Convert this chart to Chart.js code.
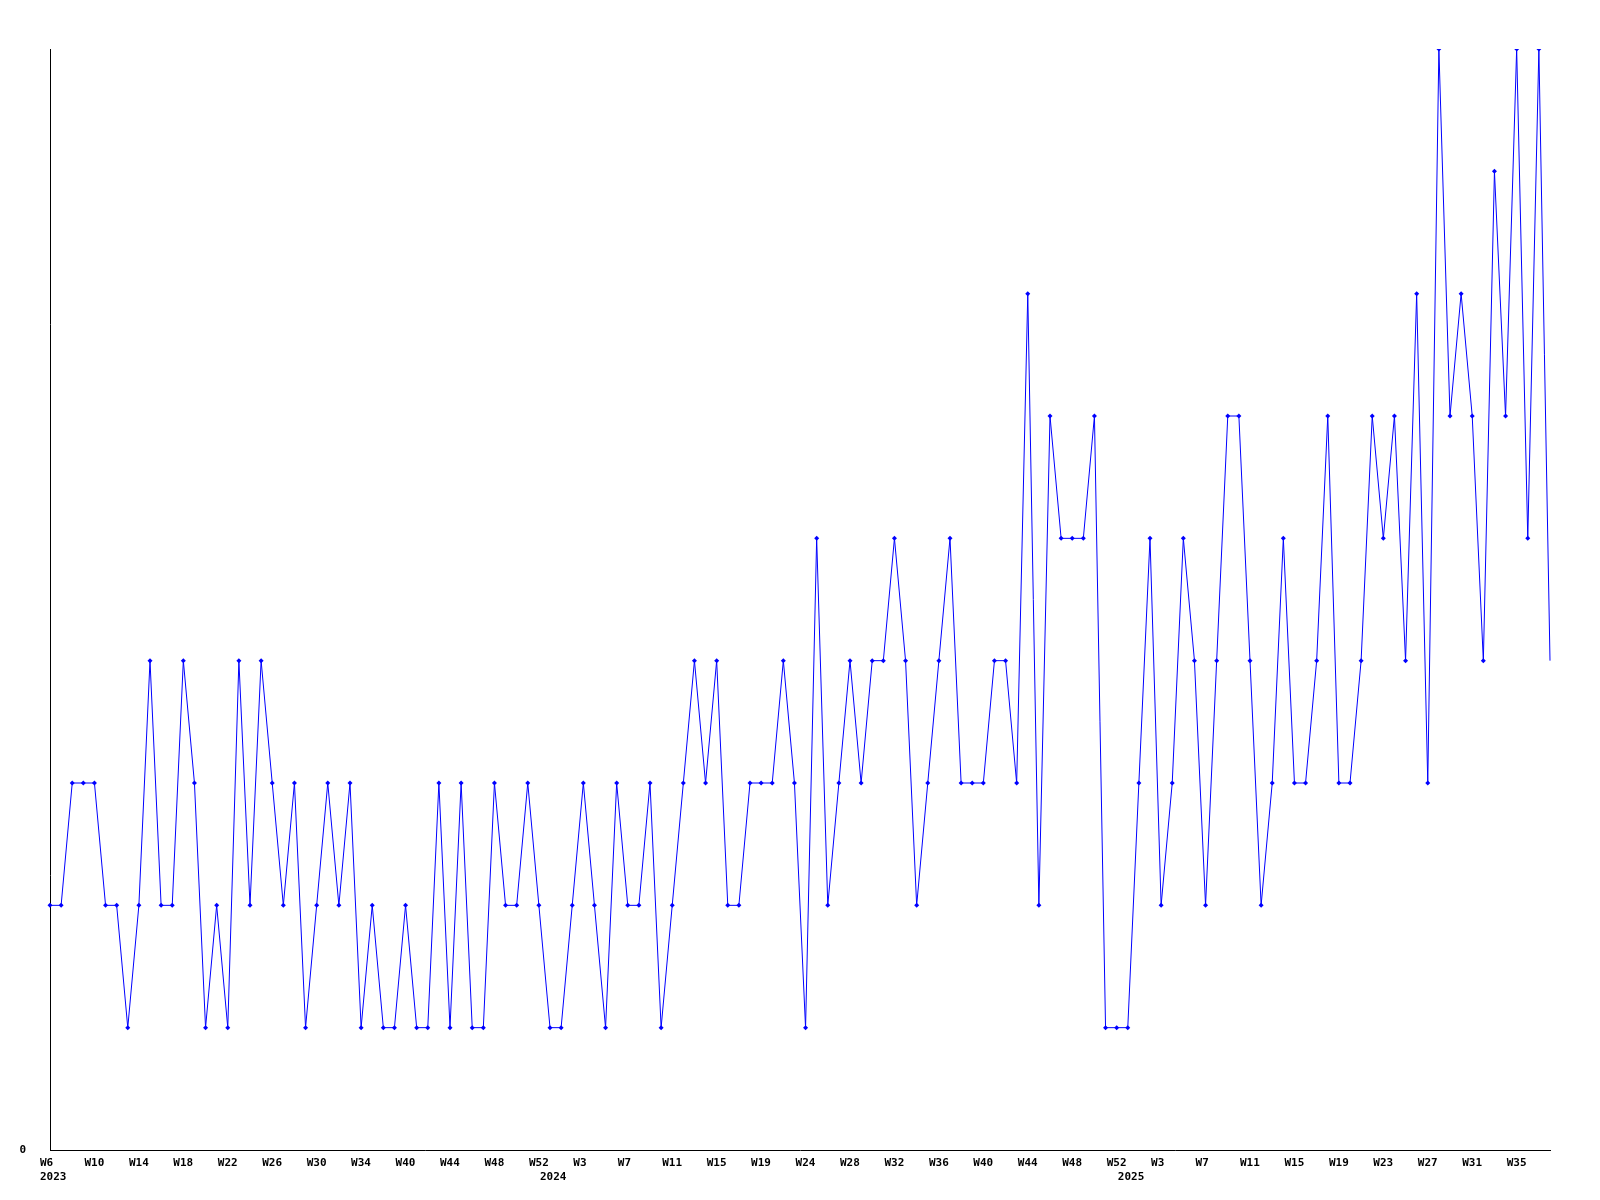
<!DOCTYPE html>
<html>
<head>
<meta charset="utf-8">
<script src="https://cdn.jsdelivr.net/npm/chart.js@4/dist/chart.umd.min.js"></script>
<style>
  html, body { margin: 0; padding: 0; background: #fff; }
  #chartSemanas { display: block; }
</style>
</head>
<body>
<canvas id="chartSemanas" width="1600" height="1200"></canvas>
<script>
// semanas de cada año (algunas no aparecen en los datos)
const semanas2023 = [6,7,8,9,10,11,12,13,14,15,16,17,18,19,20,21,22,23,24,25,26,27,28,29,30,31,32,33,34,35,36,37,40,41,42,43,44,45,46,47,48,49,50,51,52];
const semanas2024 = [0,1,2,3,4,5,6,7,8,9,10,11,12,13,14,15,16,17,18,19,20,21,22,24,25,26,27,28,29,30,31,32,33,34,35,36,37,38,39,40,41,42,43,44,45,46,47,48,49,50,51,52];
const semanas2025 = [0,1,2,3,4,5,6,7,8,9,10,11,12,13,14,15,16,17,18,19,20,21,22,23,24,25,26,27,28,29,30,31,32,33,34,35,36,37,38];

const valores2023 = [2,2,3,3,3,2,2,1,2,4,2,2,4,3,1,2,1,4,2,4,3,2,3,1,2,3,2,3,1,2,1,1,2,1,1,3,1,3,1,1,3,2,2,3,2];
const valores2024 = [1,1,2,3,2,1,3,2,2,3,1,2,3,4,3,4,2,2,3,3,3,4,3,1,5,2,3,4,3,4,4,5,4,2,3,4,5,3,3,3,4,4,3,7,2,6,5,5,5,6,1,1];
const valores2025 = [1,3,5,2,3,5,4,2,4,6,6,4,2,3,5,3,3,4,6,3,3,4,6,5,6,4,7,3,9,6,7,6,4,8,6,9,5,9,4];

const yMax = 9;

const semanas = [];
const etiquetas = [];
const valores = [];
const inicioAnio = {};

[[2023, semanas2023, valores2023], [2024, semanas2024, valores2024], [2025, semanas2025, valores2025]].forEach(([anio, sem, val]) => {
  inicioAnio[semanas.length] = anio;
  sem.forEach((s, i) => {
    semanas.push(s);
    etiquetas.push(`${anio}-W${s}`);
    valores.push(val[i]);
  });
});

const ultimo = valores.length - 1;

const fuente = { family: "'DejaVu Sans Mono', monospace", size: 11, weight: "bold", lineHeight: 1.3 };

const ctx = document.getElementById("chartSemanas").getContext("2d");

const chartSemanas = new Chart(ctx, {
  type: "line",
  data: {
    labels: etiquetas,
    datasets: [
      {
        label: "Total",
        data: valores,
        borderColor: "#0000ff",
        backgroundColor: "#0000ff",
        borderWidth: 1,
        tension: 0,
        pointStyle: "rectRot",
        pointRadius: (c) => (c.dataIndex === ultimo ? 0 : 2.5),
        pointBorderWidth: 0,
        pointBackgroundColor: "#0000ff",
      },
    ],
  },
  options: {
    responsive: false,
    animation: false,
    devicePixelRatio: 1,
    layout: { padding: { top: 49, right: 50, left: 0, bottom: 0 } },
    plugins: {
      legend: { display: false },
      tooltip: { enabled: false },
    },
    scales: {
      x: {
        type: "category",
        offset: false,
        grid: { display: false },
        border: { display: true, color: "#000", width: 1 },
        afterFit: (scale) => { scale.height = 50; },
        ticks: {
          autoSkip: false,
          maxRotation: 0,
          minRotation: 0,
          align: "start",
          labelOffset: -10,
          padding: -2,
          color: "#000",
          font: fuente,
          callback: function (value, index) {
            const semana = index % 4 === 0 ? "W" + semanas[index] : "";
            const anio = inicioAnio[index];
            if (anio !== undefined) return [semana, String(anio)];
            return semana;
          },
        },
      },
      y: {
        min: 0,
        max: yMax,
        grid: { display: false },
        border: { display: true, color: "#000", width: 1 },
        afterFit: (scale) => { scale.width = 50; },
        afterBuildTicks: (scale) => { scale.ticks = [{ value: 0 }]; },
        ticks: {
          padding: 16,
          color: "#000",
          font: fuente,
          callback: (v) => String(v),
        },
      },
    },
  },
});
</script>
</body>
</html>
